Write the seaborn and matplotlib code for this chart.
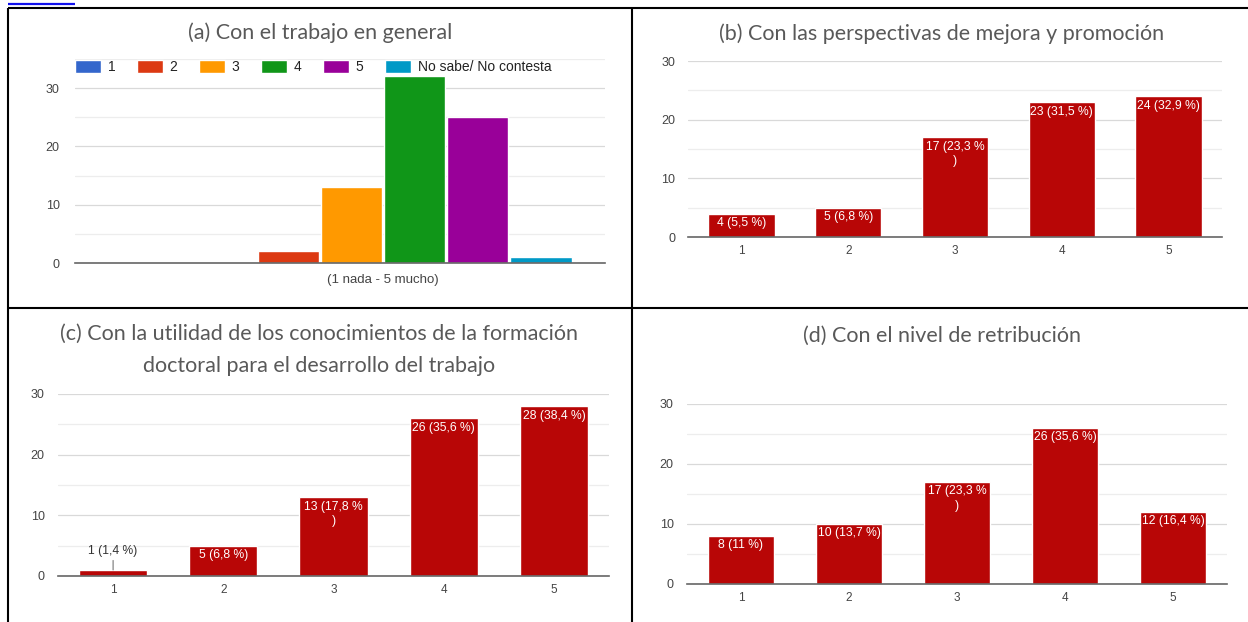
"""
Satisfacción con el empleo: cuatro gráficos de barras en una tabla 2x2.
"""

import matplotlib.pyplot as plt
import numpy as np
import pandas as pd
import seaborn as sns
from matplotlib.lines import Line2D

W, H = 1248, 622

scale_labels = ["1", "2", "3", "4", "5"]
a_labels = ["1", "2", "3", "4", "5", "No sabe/ No contesta"]
a_counts = [0, 2, 13, 32, 25, 1]
a_colors = ["#3366cc", "#dc3912", "#ff9900", "#109618", "#990099", "#0099c6"]
a_xlabel = "(1 nada - 5 mucho)"
b_counts = [4, 5, 17, 23, 24]
c_counts = [1, 5, 13, 26, 28]
d_counts = [8, 10, 17, 26, 12]
n_answers = 73

titles = [
    "(a) Con el trabajo en general",
    "(b) Con las perspectivas de mejora y promoción",
    "(c) Con la utilidad de los conocimientos de la formación\n"
    "doctoral para el desarrollo del trabajo",
    "(d) Con el nivel de retribución",
]

BAR_RED = "#b80606"
TITLE_FONT = "Lato"
SMALL_FONT = "Liberation Sans"


def px_axes(fig, left, top, right, bottom):
    """Axes placed with pixel coordinates (origin top-left)."""
    return fig.add_axes([left / W, 1 - bottom / H,
                         (right - left) / W, (bottom - top) / H])


def px_line(fig, x0, y0, x1, y1, color="black", lw=1.5):
    fig.add_artist(Line2D([x0 / W, x1 / W], [1 - y0 / H, 1 - y1 / H],
                          transform=fig.transFigure, color=color, lw=lw,
                          solid_capstyle="butt"))


def style_axes(ax, ymax, xpad, ypad, xsize=8.5):
    ax.set_ylim(0, ymax)
    ax.set_yticks(np.arange(0, 31, 10))
    ax.set_yticks(np.arange(5, ymax + 1, 10), minor=True)
    ax.grid(axis="y", which="major", color="#d9d9d9", lw=0.9)
    ax.grid(axis="y", which="minor", color="#ededed", lw=0.9)
    ax.grid(axis="x", visible=False)
    ax.set_axisbelow(True)
    for side in ["top", "right", "left"]:
        ax.spines[side].set_visible(False)
    ax.spines["bottom"].set_color("#666666")
    ax.spines["bottom"].set_linewidth(1.2)
    ax.spines["bottom"].set_zorder(3)
    ax.tick_params(axis="both", which="both", length=0, labelcolor="#444444")
    ax.tick_params(axis="x", pad=xpad, labelsize=xsize)
    ax.tick_params(axis="y", pad=ypad, labelsize=9)
    for lab in ax.get_xticklabels() + ax.get_yticklabels():
        lab.set_fontfamily(SMALL_FONT)
    ax.set_xlabel("")
    ax.set_ylabel("")


def count_label(value, wrap=False):
    pct = f"{100 * value / n_answers:.1f}".replace(".", ",")
    if pct.endswith(",0"):
        pct = pct[:-2]
    text = f"{value} ({pct} %)"
    if wrap:
        text = text.replace(" %)", " %\n)")
    return text


def red_bars(ax, counts):
    sns.barplot(x=scale_labels, y=counts, color=BAR_RED, saturation=1,
                width=0.62, ax=ax)
    for idx, value in enumerate(counts):
        label = count_label(value, wrap=(idx == 2))
        if value < 3:
            ax.annotate(label, xy=(idx, value), xytext=(idx, value + 2.1),
                        ha="center", va="bottom", color="#333333",
                        fontsize=8.7, family=SMALL_FONT,
                        arrowprops=dict(arrowstyle="-", color="#777777",
                                        lw=0.8, shrinkA=0, shrinkB=0))
        else:
            ax.annotate(label, xy=(idx, value), xytext=(0, -2.5),
                        textcoords="offset points", ha="center", va="top",
                        color="white", fontsize=8.7, family=SMALL_FONT,
                        linespacing=1.3)


sns.set_style("white")
plt.rcParams["font.family"] = [SMALL_FONT, "DejaVu Sans"]

fig = plt.figure(figsize=(W / 100, H / 100), dpi=100)

# table borders
px_line(fig, 8, 8, W, 8)
px_line(fig, 8, 8, 8, H)
px_line(fig, 632, 8, 632, H)
px_line(fig, 8, 308, W, 308)
px_line(fig, 8, 4, 75, 4, color="#1010ee", lw=1.6)

# (a) grouped bars with legend
ax_a = px_axes(fig, 75, 59, 605, 263)
df_a = pd.DataFrame({
    "grupo": [a_xlabel] * len(a_labels),
    "respuesta": a_labels,
    "n": a_counts,
})
sns.barplot(data=df_a, x="grupo", y="n", hue="respuesta",
            hue_order=a_labels, palette=a_colors, saturation=1,
            width=0.854, gap=0.03, ax=ax_a)
ax_a.set_xlim(-0.694, 0.5)
style_axes(ax_a, 35, 8, 11, xsize=9.5)
handles, labels = ax_a.get_legend_handles_labels()
ax_a.legend(handles, labels, loc="center left", bbox_to_anchor=(0, 0.961),
            ncol=6, frameon=False, borderaxespad=0, borderpad=0,
            prop={"family": SMALL_FONT, "size": 10},
            handlelength=1.87, handleheight=1.1, handletextpad=0.5,
            columnspacing=1.53, labelcolor="#222222")

# (b), (c), (d) single-series bars
ax_b = px_axes(fig, 688, 61, 1222, 237)
red_bars(ax_b, b_counts)
style_axes(ax_b, 30, 6, 9)

ax_c = px_axes(fig, 58, 394, 609, 576)
red_bars(ax_c, c_counts)
style_axes(ax_c, 30, 6, 9.5)

ax_d = px_axes(fig, 687, 404, 1227, 584)
red_bars(ax_d, d_counts)
style_axes(ax_d, 30, 6, 9.5)

# titles
title_pos = [(320, 33), (942, 34), (319, 350), (942, 336)]
for text, (x, y) in zip(titles, title_pos):
    fig.text(x / W, 1 - y / H, text, ha="center", va="center",
             family=TITLE_FONT, fontsize=15.5, color="#595959",
             linespacing=1.75)

fig.savefig("out.png", dpi=100)
